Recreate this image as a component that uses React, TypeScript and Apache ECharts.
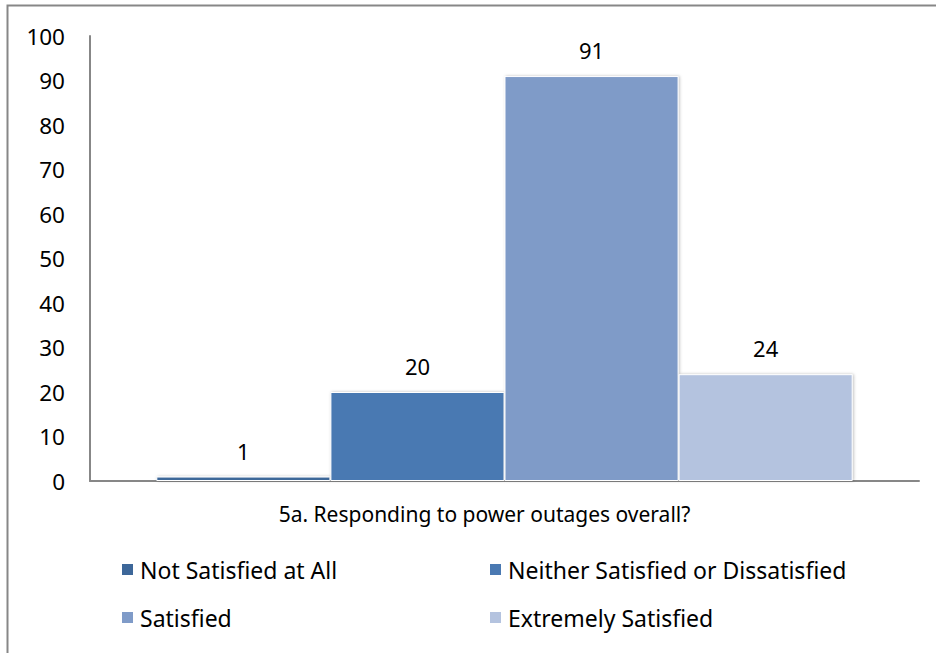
import React, { useEffect, useRef } from "react";
import * as echarts from "echarts";

const categories = ["5a. Responding to power outages overall?"];
const seriesNames = [
  "Not Satisfied at All",
  "Neither Satisfied or Dissatisfied",
  "Satisfied",
  "Extremely Satisfied",
];
const seriesValues = [[1], [20], [91], [24]];
const seriesColors = ["#3D6799", "#4A79B2", "#7F9BC8", "#B4C3DF"];
const yTicks = { min: 0, max: 100, interval: 10 };

const FONT = "'Noto Sans', sans-serif";

export default function App() {
  const ref = useRef<HTMLDivElement>(null);
  useEffect(() => {
    if (!ref.current) return;
    const chart = echarts.init(ref.current, undefined, { renderer: "svg" });
    const legendPos = [
      { left: 120, top: 558 },
      { left: 488, top: 558 },
      { left: 120, top: 606 },
      { left: 488, top: 606 },
    ];
    chart.setOption({
      animation: false,
      backgroundColor: "#ffffff",
      textStyle: { fontFamily: FONT },
      graphic: [
        {
          type: "rect",
          shape: { x: 7.5, y: 5.5, width: 1000, height: 1000 },
          style: { fill: "none", stroke: "#878787", lineWidth: 2 },
          silent: true,
        },
      ],
      grid: { left: 90, right: 17, top: 36, bottom: 172, containLabel: false },
      legend: seriesNames.map((n, i) => ({
        data: [n],
        left: legendPos[i].left,
        top: legendPos[i].top,
        icon: "rect",
        itemWidth: 13,
        itemHeight: 13,
        padding: 0,
        textStyle: { fontSize: 23, color: "#000", fontFamily: FONT, padding: [0, 0, 0, 1] },
        selectedMode: false,
      })),
      xAxis: {
        type: "category",
        data: categories,
        axisLine: { show: true, lineStyle: { color: "#878787", width: 2 } },
        axisTick: { show: false },
        axisLabel: {
          fontSize: 21,
          color: "#000",
          margin: 22,
          padding: [0, 40, 0, 0],
          fontFamily: FONT,
        },
      },
      yAxis: {
        type: "value",
        min: yTicks.min,
        max: yTicks.max,
        interval: yTicks.interval,
        axisLine: { show: true, lineStyle: { color: "#878787", width: 2 } },
        axisTick: { show: false },
        splitLine: { show: false },
        axisLabel: { fontSize: 22.5, color: "#000", margin: 25, fontFamily: FONT },
      },
      series: seriesNames.map((n, i) => ({
        name: n,
        type: "bar",
        data: seriesValues[i],
        barGap: "0%",
        barCategoryGap: "16%",
        itemStyle: {
          color: seriesColors[i],
          borderColor: "#ffffff",
          borderWidth: 1,
          shadowColor: "rgba(0,0,0,0.25)",
          shadowBlur: 3,
          shadowOffsetX: 1,
        },
        label: {
          show: true,
          position: "top",
          distance: 15,
          fontSize: 22,
          color: "#000",
          fontFamily: FONT,
        },
      })),
    });
    return () => chart.dispose();
  }, []);
  return (
    <div
      ref={ref}
      style={{ position: "absolute", left: 0, top: 0, width: 936, height: 653 }}
    />
  );
}
